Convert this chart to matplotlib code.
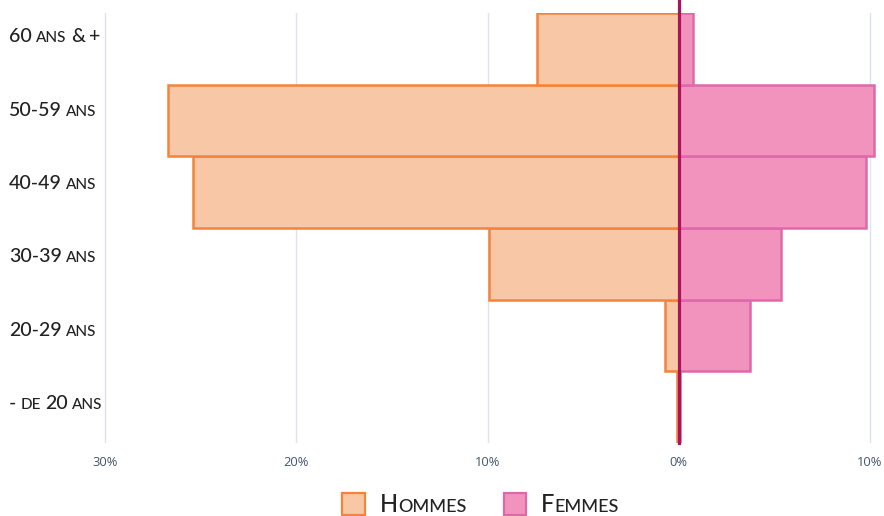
import matplotlib
matplotlib.use("Agg")
import matplotlib.pyplot as plt
from matplotlib.offsetbox import TextArea, HPacker, AnnotationBbox, DrawingArea
from matplotlib.patches import Rectangle

# data (percent of respondents per age band)
categories = ["- de 20 ans", "20-29 ans", "30-39 ans", "40-49 ans", "50-59 ans", "60 ans & +"]
hommes = [0.1, 0.7, 9.9, 25.4, 26.7, 7.4]
femmes = [0.05, 3.7, 5.35, 9.8, 10.2, 0.75]
xticks = [-30, -20, -10, 0, 10]
xtick_labels = ["30%", "20%", "10%", "0%", "10%"]
legend_labels = ["Hommes", "Femmes"]

FONT = ["Lato", "DejaVu Sans"]
C_H_FILL, C_H_EDGE = "#f8c7a5", "#f5843a"
C_F_FILL, C_F_EDGE = "#f293bd", "#dc6aaa"
C_ZERO = "#ab145c"
C_TXT = "#222222"


def smallcaps(text, big, small, color):
    # fake small caps : lowercase letters -> smaller uppercase
    words = []
    for word in text.split(" "):
        runs = []
        cur, cur_low = "", None
        for ch in word:
            low = ch.islower()
            if cur and low != cur_low:
                runs.append((cur, cur_low))
                cur = ""
            cur += ch
            cur_low = low
        runs.append((cur, cur_low))
        parts = [TextArea(r.upper() if low else r,
                          textprops=dict(fontsize=small if low else big,
                                         color=color, family=FONT, weight="medium"))
                 for r, low in runs]
        words.append(HPacker(children=parts, align="baseline", pad=0, sep=0))
    return HPacker(children=words, align="baseline", pad=0, sep=big * 0.22)


fig = plt.figure(figsize=(8.84, 5.16), dpi=100)
ax = fig.add_axes([100 / 884, 1 - 443 / 516, 780 / 884, 430 / 516])

y = list(range(len(categories)))
ax.barh(y, [-v for v in hommes], height=1, color=C_H_FILL, edgecolor=C_H_EDGE,
        linewidth=1.8, zorder=2)
ax.barh(y, femmes, height=1, color=C_F_FILL, edgecolor=C_F_EDGE,
        linewidth=1.8, zorder=2)

ppp = (870 - 105) / 40.0
ax.set_xlim(-30 - 5 / ppp, 10 + 10 / ppp)
ax.set_ylim(-0.5, len(categories) - 0.5)
ax.axvline(0, ymin=0, ymax=443 / 430, color=C_ZERO, lw=2.3, zorder=5, clip_on=False)

ax.set_xticks(xticks)
ax.set_xticklabels(xtick_labels)
ax.set_yticks([])
ax.tick_params(axis="x", length=0, pad=9, labelsize=9.3, labelcolor="#45536b")
for lab in ax.get_xticklabels():
    lab.set_family(["Open Sans", "DejaVu Sans"])
ax.xaxis.grid(True, color="#dfe4ec", lw=1, zorder=0)
ax.set_axisbelow(True)
for s in ax.spines.values():
    s.set_visible(False)

# y labels (sit a little above the row centres, spacing slightly wider)
for i, cat in enumerate(categories):
    box = smallcaps(cat, 14, 11, C_TXT)
    ab = AnnotationBbox(box, (9 / 884, i * 1.024 + 0.05),
                        xycoords=("figure fraction", "data"),
                        box_alignment=(0, 0.5), frameon=False, pad=0,
                        annotation_clip=False)
    ax.add_artist(ab)

# legend
items = []
for lab, fc, ec in zip(legend_labels, [C_H_FILL, C_F_FILL], [C_H_EDGE, C_F_EDGE]):
    da = DrawingArea(18, 18)
    da.add_artist(Rectangle((0.8, 0.8), 16.4, 16.4, facecolor=fc, edgecolor=ec, lw=1.6))
    items.append(HPacker(children=[da, smallcaps(lab, 17, 13, C_TXT)],
                         align="center", pad=0, sep=10))
leg = HPacker(children=items, align="center", pad=0, sep=26)
ab = AnnotationBbox(leg, (480 / 884, 1 - 504 / 516), xycoords="figure fraction",
                    box_alignment=(0.5, 0.5), frameon=False, pad=0,
                    annotation_clip=False)
fig.add_artist(ab)

fig.savefig("out.png", dpi=100)
